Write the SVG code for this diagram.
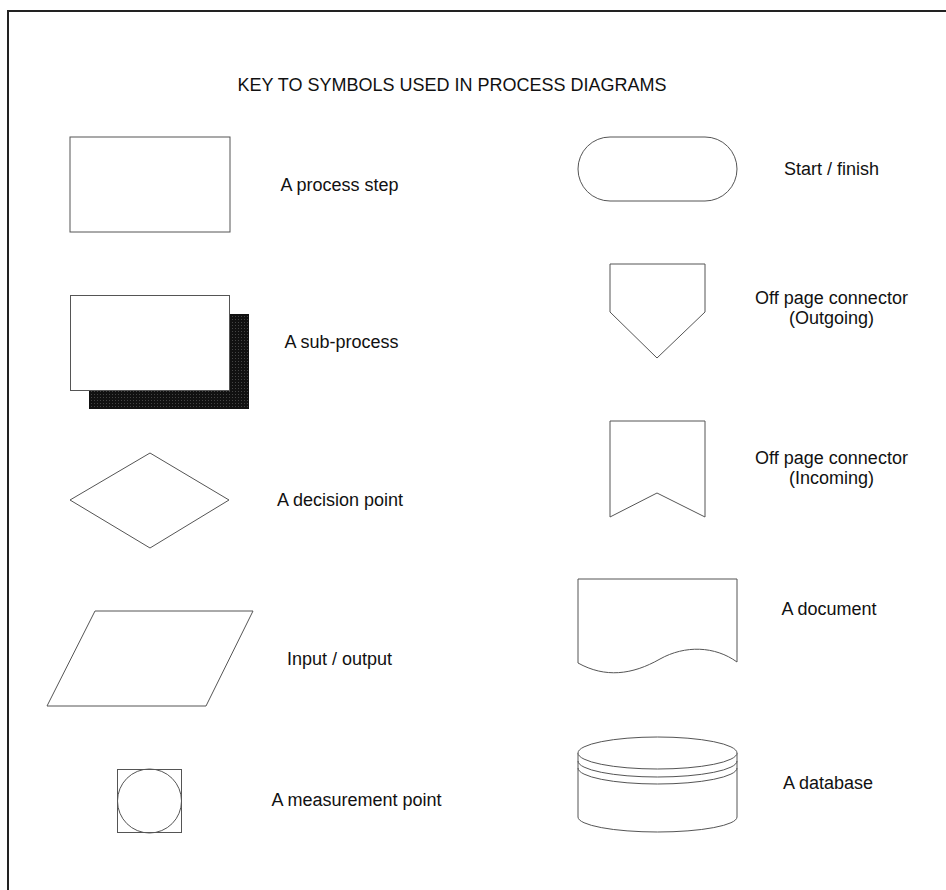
<svg xmlns="http://www.w3.org/2000/svg" width="946" height="890" viewBox="0 0 946 890">
<style>
.s{fill:#fff;stroke:#555;stroke-width:1}
.n{fill:none;stroke:#555;stroke-width:1}
text{font-family:"Liberation Sans",Arial,sans-serif;font-size:18px;fill:#111;text-anchor:middle}
</style>
<defs>
<pattern id="dots" width="3" height="3" patternUnits="userSpaceOnUse">
<rect width="3" height="3" fill="#111"/>
<rect x="1" y="1" width="1" height="1" fill="#444"/>
</pattern>
</defs>
<rect width="946" height="890" fill="#fff"/>
<rect x="8" y="11" width="960" height="920" fill="none" stroke="#222" stroke-width="2"/>
<text x="452" y="91">KEY TO SYMBOLS USED IN PROCESS DIAGRAMS</text>
<g id="process-step">
<rect class="s" x="70" y="137" width="160" height="95"/>
<text x="339.5" y="191">A process step</text>
</g>
<g id="sub-process">
<rect x="89" y="314" width="160" height="95" fill="url(#dots)"/>
<rect class="s" x="70.5" y="295.5" width="159" height="95"/>
<text x="341.5" y="348">A sub-process</text>
</g>
<g id="decision">
<polygon class="s" points="70,500 150,453 229,500 150,548"/>
<text x="340" y="506">A decision point</text>
</g>
<g id="input-output">
<polygon class="s" points="95,611 253,611 206,706 47,706"/>
<text x="339.5" y="665">Input / output</text>
</g>
<g id="measurement">
<rect class="s" x="117.5" y="769.5" width="64" height="63"/>
<circle class="n" cx="149.5" cy="801" r="32"/>
<text x="356.5" y="806">A measurement point</text>
</g>
<g id="start-finish">
<rect class="s" x="578" y="137" width="159" height="64" rx="32" ry="32"/>
<text x="831.5" y="175">Start / finish</text>
</g>
<g id="offpage-out">
<polygon class="s" points="610,264 705,264 705,312 657,358 610,312"/>
<text x="831.5" y="304">Off page connector</text>
<text x="831.5" y="324">(Outgoing)</text>
</g>
<g id="offpage-in">
<polygon class="s" points="610,421 705,421 705,517 657,493 610,517"/>
<text x="831.5" y="464">Off page connector</text>
<text x="831.5" y="484">(Incoming)</text>
</g>
<g id="document">
<path class="s" d="M578,579 H737 V662 C715,646 685,645 660,659 C632,675 605,678 578,663 Z"/>
<text x="829" y="615">A document</text>
</g>
<g id="database">
<path class="s" d="M578,753 V817 A79.5,15 0 0 0 737,817 V753"/>
<ellipse class="s" cx="657.5" cy="753" rx="79.5" ry="16"/>
<path class="n" d="M578,761 A79.5,16 0 0 0 737,761"/>
<path class="n" d="M578,768 A79.5,16 0 0 0 737,768"/>
<text x="828" y="789">A database</text>
</g>
<g id="connectors"></g>
</svg>
